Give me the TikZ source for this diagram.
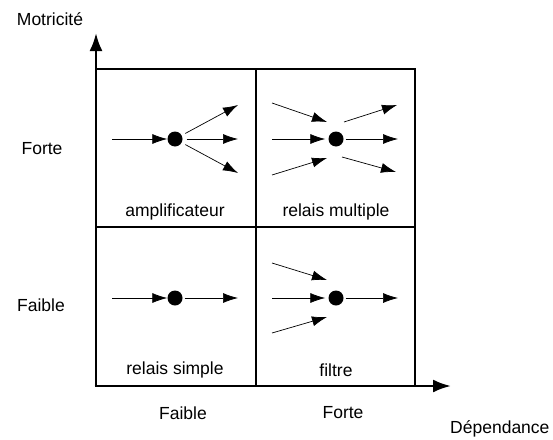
\documentclass[tikz,border=0pt]{standalone}
\usepackage{fontspec}
\setmainfont{Liberation Sans}
\usetikzlibrary{arrows.meta}

\tikzset{
    dot/.style={circle, fill=black, inner sep=0pt, minimum width=14pt, minimum height=15pt},
    flow/.style={->, >={Latex[length=15pt,width=10pt]}, line width=0.7pt},
    axis/.style={->, >={Latex[length=18pt,width=13pt]}, line width=2.6pt},
    lbl/.style={font=\fontsize{17.5}{20}\selectfont}
}

\begin{document}
\begin{tikzpicture}[x=1pt, y=-1pt]
    \useasboundingbox (0,0) rectangle (553,439);
    % grille
    \draw [line width=1.1pt] (96,69) -- (415,69) -- (415,386);
    \draw [line width=1.1pt] (96,227) -- (415,227);
    \draw [line width=1.1pt] (256,69) -- (256,386);
    % axes
    \draw [axis] (96,386) -- (96,33);
    \draw [axis] (94.7,386) -- (451,386);
    \node [lbl] (motricite) at (50,19) {Motricité};
    \node [lbl, anchor=east] (dependance) at (553,429) {Dépendance};
    \node [lbl] (forteY) at (42,149) {Forte};
    \node [lbl] (faibleY) at (41,305) {Faible};
    \node [lbl] (faibleX) at (183,413) {Faible};
    \node [lbl] (forteX) at (343,413) {Forte};

    % amplificateur
    \node [dot] (ampli) at (175,139) {};
    \coordinate (ampliIn) at (112,139);
    \draw [flow] (ampliIn) -- (ampli);
    \draw [flow, shorten <=4pt] (ampli) -- (238,105);
    \draw [flow, shorten <=4pt] (ampli) -- (238,139);
    \draw [flow, shorten <=4pt] (ampli) -- (238,173);
    \node [lbl] (ampliTxt) at (175,212) {amplificateur};

    % relais multiple
    \node [dot] (multi) at (336,139) {};
    \coordinate (multiA) at (272,103);
    \coordinate (multiB) at (272,139);
    \coordinate (multiC) at (272,175);
    \draw [flow] (multiA) -- (327,122);
    \draw [flow, shorten >=3pt] (multiB) -- (multi);
    \draw [flow] (multiC) -- (327,158);
    \draw [flow] (344,122) -- (397,105);
    \draw [flow, shorten <=2pt] (multi) -- (398,139);
    \draw [flow] (342,157) -- (396,172);
    \node [lbl] (multiTxt) at (336,212) {relais multiple};

    % relais simple
    \node [dot] (simple) at (175,298) {};
    \coordinate (simpleIn) at (112,298);
    \draw [flow] (simpleIn) -- (simple);
    \draw [flow, shorten <=2pt] (simple) -- (238,298);
    \node [lbl] (simpleTxt) at (175,370) {relais simple};

    % filtre
    \node [dot] (filtre) at (336,298) {};
    \coordinate (filtreA) at (272,263);
    \coordinate (filtreB) at (272,298);
    \coordinate (filtreC) at (272,333);
    \draw [flow] (filtreA) -- (327,280);
    \draw [flow, shorten >=3pt] (filtreB) -- (filtre);
    \draw [flow] (filtreC) -- (327,317);
    \draw [flow, shorten <=2pt] (filtre) -- (398,298);
    \node [lbl] (filtreTxt) at (336,370) {filtre};
\end{tikzpicture}
\end{document}
